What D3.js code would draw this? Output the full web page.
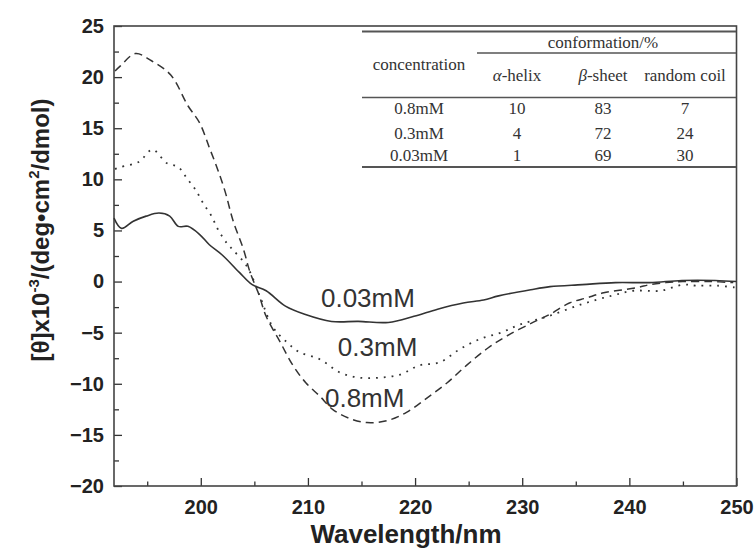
<!DOCTYPE html>
<html lang="en">
<head>
    <meta charset="UTF-8">
    <title>CD spectra</title>
    <style>
        body { margin: 0; background: #fff; }
        svg { display: block; }
        .tick text { font-family: Arial, "Liberation Sans", sans-serif; font-weight: bold; font-size: 20px; fill: #222; }
        .tbl text { font-family: "Liberation Serif", "Times New Roman", serif; font-size: 17px; fill: #333; }
    </style>
</head>
<body>
    <div id="chart"></div>

    <script src="https://d3js.org/d3.v7.min.js"></script>
    <script>
        // wavelength (nm) / ellipticity readings for each concentration
        const wl003 = [191.9, 192.6, 193.7, 194.9, 196.1, 197.1, 197.9, 198.8, 199.9, 200.8, 202.0, 203.6, 204.8, 206.1, 207.9, 209.7, 212.2, 214.7, 217.5, 219.9, 222.1, 224.5, 226.4, 227.8, 230.8, 232.6, 235.6, 238.7, 241.9, 244.9, 248.0, 250];
        const val003 = [6.2, 5.2, 5.9, 6.4, 6.7, 6.4, 5.4, 5.4, 4.6, 3.6, 2.6, 0.9, -0.3, -0.9, -2.4, -3.2, -3.9, -3.9, -4.0, -3.4, -2.7, -2.1, -1.8, -1.4, -0.8, -0.5, -0.3, -0.1, -0.1, 0.1, 0.1, 0.0];

        const wl03 = [192.0, 192.5, 194.2, 195.5, 196.8, 197.9, 198.7, 199.5, 200.2, 201.0, 201.6, 202.4, 203.0, 204.3, 205.5, 206.7, 208.0, 209.2, 211.1, 213.0, 214.8, 216.7, 218.6, 220.4, 222.3, 224.2, 226.1, 228.0, 229.8, 232.4, 235.6, 238.3, 240.4, 242.9, 245.0, 246.2, 248.2, 250];
        const val03 = [11.0, 11.2, 11.7, 12.9, 11.6, 11.2, 10.1, 9.0, 7.7, 6.4, 5.1, 3.8, 3.1, 1.5, -1.4, -4.4, -5.9, -6.9, -7.6, -8.9, -9.4, -9.4, -9.1, -8.2, -7.9, -6.6, -5.6, -5.0, -4.2, -3.4, -2.2, -1.4, -0.9, -0.9, -0.3, -0.4, -0.4, -0.6];

        const wl08 = [192.0, 192.5, 193.9, 195.4, 197.2, 198.8, 199.9, 200.8, 201.6, 202.3, 203.0, 204.0, 204.6, 205.4, 206.1, 207.4, 208.6, 209.8, 211.1, 212.3, 213.9, 215.5, 217.4, 219.2, 221.1, 223.0, 224.8, 226.8, 228.6, 231.0, 232.6, 234.4, 236.0, 237.6, 240.7, 241.9, 243.4, 245.0, 247.6, 249.7];
        const val08 = [20.6, 21.1, 22.3, 21.6, 20.2, 17.2, 15.5, 13.1, 10.9, 8.7, 6.0, 3.1, 0.9, -1.2, -3.4, -5.9, -8.2, -9.9, -11.2, -12.5, -13.4, -13.8, -13.6, -12.8, -11.4, -9.9, -8.2, -6.5, -5.3, -4.0, -3.2, -2.1, -1.6, -1.1, -0.6, -0.3, -0.1, 0.0, 0.0, -0.1];

        const seriesNames = ["0.03mM", "0.3mM", "0.8mM"];
        // where each curve label sits (wavelength, value)
        const labelPos = [[215.6, -2.45], [216.5, -7.3], [215.3, -12.3]];

        const xTicks = [200, 210, 220, 230, 240, 250];
        const xMinor = [195, 205, 215, 225, 235, 245];
        const yTicks = [-20, -15, -10, -5, 0, 5, 10, 15, 20, 25];
        const yMinor = [-17.5, -12.5, -7.5, -2.5, 2.5, 7.5, 12.5, 17.5, 22.5];

        // inset table
        const tblConc = ["0.8mM", "0.3mM", "0.03mM"];
        const tblHelix = [10, 4, 1];
        const tblSheet = [83, 72, 69];
        const tblCoil = [7, 24, 30];

        const width = 756, height = 548;
        const margin = { top: 26, right: 19.5, bottom: 62, left: 114 };

        const svg = d3.select("#chart").append("svg")
            .attr("width", width)
            .attr("height", height);

        const x = d3.scaleLinear().domain([191.9, 250]).range([margin.left, width - margin.right]);
        const y = d3.scaleLinear().domain([-20, 25]).range([height - margin.bottom, margin.top]);

        // minor ticks
        svg.append("g")
            .attr("transform", `translate(0,${y(-20)})`)
            .call(d3.axisBottom(x).tickValues(xMinor).tickSize(-4.5).tickFormat(""))
            .call(g => g.select(".domain").remove());
        svg.append("g")
            .attr("transform", `translate(${x.range()[0]},0)`)
            .call(d3.axisLeft(y).tickValues(yMinor).tickSize(-5).tickFormat(""))
            .call(g => g.select(".domain").remove());

        // major ticks
        svg.append("g")
            .attr("transform", `translate(0,${y(-20)})`)
            .call(d3.axisBottom(x).tickValues(xTicks).tickSize(-8).tickPadding(14))
            .call(g => g.select(".domain").remove());
        svg.append("g")
            .attr("transform", `translate(${x.range()[0]},0)`)
            .call(d3.axisLeft(y).tickValues(yTicks).tickSize(-8).tickPadding(10))
            .call(g => g.select(".domain").remove());

        svg.selectAll(".tick line").attr("stroke", "#333").attr("stroke-width", 1.3);

        // frame
        svg.append("rect")
            .attr("x", x.range()[0])
            .attr("y", y.range()[1])
            .attr("width", x.range()[1] - x.range()[0])
            .attr("height", y.range()[0] - y.range()[1])
            .attr("fill", "none")
            .attr("stroke", "#444")
            .attr("stroke-width", 1.6);

        const line = d3.line()
            .x(d => x(d[0]))
            .y(d => y(d[1]))
            .curve(d3.curveCatmullRom);

        const curves = [
            { pts: d3.zip(wl003, val003), dash: null, w: 1.6 },
            { pts: d3.zip(wl03, val03), dash: "1.8,6", w: 1.8 },
            { pts: d3.zip(wl08, val08), dash: "8,5", w: 1.5 }
        ];

        svg.selectAll(".curve")
            .data(curves)
            .enter()
            .append("path")
            .attr("class", "curve")
            .attr("d", d => line(d.pts))
            .attr("fill", "none")
            .attr("stroke", "#333")
            .attr("stroke-width", d => d.w)
            .attr("stroke-dasharray", d => d.dash);

        svg.selectAll(".clabel")
            .data(seriesNames)
            .enter()
            .append("text")
            .attr("class", "clabel")
            .attr("x", (d, i) => x(labelPos[i][0]))
            .attr("y", (d, i) => y(labelPos[i][1]))
            .attr("text-anchor", "middle")
            .attr("font-family", "Arial, 'Liberation Sans', sans-serif")
            .attr("font-size", 26)
            .attr("fill", "#333")
            .text(d => d);

        // axis titles
        svg.append("text")
            .attr("x", 406)
            .attr("y", 543)
            .attr("text-anchor", "middle")
            .attr("font-family", "Arial, 'Liberation Sans', sans-serif")
            .attr("font-weight", "bold")
            .attr("font-size", 26)
            .attr("fill", "#222")
            .text("Wavelength/nm");

        const yTitle = svg.append("text")
            .attr("transform", "translate(49,230) rotate(-90)")
            .attr("text-anchor", "middle")
            .attr("font-family", "Arial, 'Liberation Sans', sans-serif")
            .attr("font-weight", "bold")
            .attr("font-size", 24)
            .attr("fill", "#222");
        yTitle.append("tspan").text("[θ]x10");
        yTitle.append("tspan").attr("dy", -10).attr("font-size", 15).text("-3");
        yTitle.append("tspan").attr("dy", 10).text("/(deg•cm");
        yTitle.append("tspan").attr("dy", -10).attr("font-size", 15).text("2");
        yTitle.append("tspan").attr("dy", 10).text("/dmol)");

        // inset table
        const tbl = svg.append("g").attr("class", "tbl");
        const colX = [419, 517, 603, 685];
        const rowY = [114, 139, 161];
        const rule = (x1, x2, yy, w) => tbl.append("line")
            .attr("x1", x1).attr("x2", x2).attr("y1", yy).attr("y2", yy)
            .attr("stroke", "#555").attr("stroke-width", w);

        rule(362, 736, 31.5, 2);
        rule(477, 736, 53, 1.3);
        rule(362, 736, 97.5, 1.6);
        rule(362, 736, 167, 1.8);

        tbl.append("text").attr("x", 603).attr("y", 48).attr("text-anchor", "middle").text("conformation/%");
        tbl.append("text").attr("x", colX[0]).attr("y", 70).attr("text-anchor", "middle").text("concentration");
        const h1 = tbl.append("text").attr("x", colX[1]).attr("y", 81).attr("text-anchor", "middle");
        h1.append("tspan").attr("font-style", "italic").text("α");
        h1.append("tspan").text("-helix");
        const h2 = tbl.append("text").attr("x", colX[2]).attr("y", 81).attr("text-anchor", "middle");
        h2.append("tspan").attr("font-style", "italic").text("β");
        h2.append("tspan").text("-sheet");
        tbl.append("text").attr("x", colX[3]).attr("y", 81).attr("text-anchor", "middle").text("random coil");

        const cols = [tblConc, tblHelix, tblSheet, tblCoil];
        cols.forEach((col, c) => {
            tbl.selectAll(".c" + c)
                .data(col)
                .enter()
                .append("text")
                .attr("x", colX[c])
                .attr("y", (d, i) => rowY[i])
                .attr("text-anchor", "middle")
                .text(d => d);
        });
    </script>
</body>
</html>
